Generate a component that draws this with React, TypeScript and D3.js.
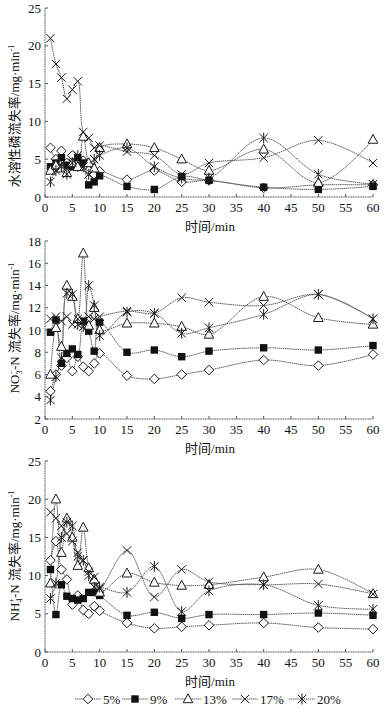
import { useMemo } from 'react';
import * as d3 from 'd3';

// sampling times (min)
const times = [1, 2, 3, 4, 5, 6, 7, 8, 9, 10, 15, 20, 25, 30, 40, 50, 60];
const seriesNames = ['5%', '9%', '13%', '17%', '20%'];
const xTicks = [0, 5, 10, 15, 20, 25, 30, 35, 40, 45, 50, 55, 60];

// water soluble P loss rate
const p5 = [6.5, 5.0, 6.1, 4.5, 5.5, 4.0, 4.8, 3.5, 3.0, 3.4, 2.3, 3.5, 2.0, 2.2, 1.2, 1.6, 1.6];
const p9 = [4.0, 4.5, 5.2, 4.2, 4.0, 5.2, 4.5, 1.6, 2.0, 2.8, 1.4, 1.0, 2.7, 2.2, 1.3, 1.0, 1.4];
const p13 = [3.5, 4.2, 3.8, 3.2, 4.5, 4.0, 8.0, 4.5, 3.8, 6.5, 7.0, 6.5, 5.0, 3.5, 6.3, 1.9, 7.6];
const p17 = [21.0, 17.6, 15.8, 13.0, 14.2, 15.3, 8.6, 7.8, 6.5, 6.8, 6.0, 5.5, 3.0, 4.5, 5.2, 7.5, 4.5];
const p20 = [2.0, 3.5, 4.0, 3.0, 4.5, 5.5, 4.0, 3.0, 5.0, 5.5, 6.5, 4.0, 2.5, 2.5, 7.8, 3.0, 1.7];

// NO3--N loss rate
const n5 = [4.5, 6.0, 6.8, 7.5, 6.3, 7.6, 6.7, 6.3, 7.0, 7.9, 5.9, 5.6, 6.0, 6.4, 7.3, 6.8, 7.8];
const n9 = [9.8, 10.9, 7.0, 7.9, 8.3, 7.8, 10.8, 9.9, 8.1, 10.7, 8.0, 8.2, 7.6, 8.1, 8.4, 8.2, 8.6];
const n13 = [6.0, 10.2, 8.5, 14.0, 13.0, 11.0, 16.9, 10.4, 12.0, 10.0, 10.6, 10.6, 10.3, 9.6, 13.0, 11.1, 10.5];
const n17 = [11.0, 11.2, 10.8, 11.2, 10.5, 11.0, 10.8, 11.2, 11.0, 11.2, 11.7, 11.5, 12.9, 12.5, 12.2, 13.2, 11.0];
const n20 = [3.7, 5.8, 7.5, 13.3, 13.2, 10.5, 10.3, 14.0, 12.2, 9.5, 11.6, 11.5, 9.7, 10.2, 11.4, 13.2, 11.0];

// NH4+-N loss rate
const a5 = [12.0, 14.5, 10.8, 9.5, 6.2, 7.4, 5.5, 5.0, 6.0, 5.4, 3.8, 3.1, 3.3, 3.5, 3.8, 3.2, 3.0];
const a9 = [10.8, 4.9, 8.8, 7.3, 7.0, 6.8, 7.0, 7.8, 7.8, 7.4, 4.8, 5.2, 4.4, 4.9, 4.9, 5.1, 4.8];
const a13 = [9.0, 20.0, 13.0, 17.5, 15.0, 11.3, 16.3, 11.0, 9.5, 7.8, 10.3, 9.1, 8.7, 8.8, 9.8, 10.8, 7.6];
const a17 = [18.3, 17.5, 16.5, 15.5, 14.5, 13.0, 12.0, 10.5, 9.8, 8.3, 13.3, 7.2, 10.8, 9.2, 8.8, 8.9, 7.6];
const a20 = [7.0, 9.0, 15.0, 17.0, 16.5, 12.5, 12.0, 10.0, 8.5, 8.5, 7.8, 11.2, 5.3, 8.0, 8.8, 6.1, 5.6];

const SERIF = '"Liberation Serif", "DejaVu Serif", serif';
const CJK = '"Noto Sans CJK SC", sans-serif';
const LINE = '#5c5c5c';
const INK = '#1a1a1a';

function Marker({ kind, x, y }: { kind: number; x: number; y: number }) {
  const t = `translate(${x},${y})`;
  if (kind === 0)
    return <path transform={t} d="M0,-4.8L4.8,0L0,4.8L-4.8,0Z" fill="#fff" stroke={INK} strokeWidth={1} />;
  if (kind === 1) return <rect x={x - 3.7} y={y - 3.7} width={7.4} height={7.4} fill="#111" />;
  if (kind === 2)
    return <path transform={t} d="M0,-5.2L4.8,3.7L-4.8,3.7Z" fill="#fff" stroke={INK} strokeWidth={1} />;
  const cross = 'M-4.2,-4.2L4.2,4.2M-4.2,4.2L4.2,-4.2';
  if (kind === 3) return <path transform={t} d={cross} stroke={INK} strokeWidth={1} fill="none" />;
  return <path transform={t} d={cross + 'M0,-5.4L0,5.4'} stroke={INK} strokeWidth={1} fill="none" />;
}

interface PanelProps {
  top: number;
  bottom: number;
  domain: [number, number];
  yTicks: number[];
  series: number[][];
  title: JSX.Element;
  titleY: number;
}

const X0 = 45;
const X1 = 373;

function Panel({ top, bottom, domain, yTicks, series, title, titleY }: PanelProps) {
  const x = d3.scaleLinear().domain([0, 60]).range([X0, X1]);
  const y = d3.scaleLinear().domain(domain).range([bottom, top]);
  const line = d3
    .line<number>()
    .x((_, i) => x(times[i]))
    .y((d) => y(d))
    .curve(d3.curveCatmullRom.alpha(0.5));

  return (
    <g>
      {series.map((s, k) => (
        <path key={'l' + k} d={line(s) || ''} fill="none" stroke={LINE} strokeWidth={1} strokeDasharray="1.5 0.6" />
      ))}
      {series.map((s, k) => (
        <g key={'m' + k}>
          {s.map((v, i) => (
            <Marker key={i} kind={k} x={x(times[i])} y={y(v)} />
          ))}
        </g>
      ))}
      <line x1={X0} x2={X0} y1={top} y2={bottom} stroke="#555" strokeWidth={1} strokeDasharray="1.2 0.5" />
      <line x1={X0} x2={X1} y1={bottom} y2={bottom} stroke="#555" strokeWidth={1} strokeDasharray="1.2 0.5" />
      {yTicks.map((t) => (
        <g key={'y' + t}>
          <line x1={X0} x2={X0 + 3} y1={y(t)} y2={y(t)} stroke="#555" />
          <text x={X0 - 4} y={y(t) + 4.5} textAnchor="end" fontFamily={SERIF} fontSize={13} fill="#111">
            {t}
          </text>
        </g>
      ))}
      {xTicks.map((t) => (
        <g key={'x' + t}>
          <line x1={x(t)} x2={x(t)} y1={bottom} y2={bottom - 3} stroke="#555" />
          <text x={x(t)} y={bottom + 15} textAnchor="middle" fontFamily={SERIF} fontSize={13} fill="#111">
            {t}
          </text>
        </g>
      ))}
      <text x={210} y={bottom + 34} textAnchor="middle" fontSize={13} fill="#111">
        <tspan fontFamily={CJK}>时间</tspan>
        <tspan fontFamily={SERIF}>/min</tspan>
      </text>
      <g transform={`translate(19,${titleY}) rotate(-90)`}>{title}</g>
    </g>
  );
}

export default function App() {
  const legendItems = useMemo(() => [75, 122, 175, 232, 289], []);
  const titleP = (
    <text textAnchor="middle" fontSize={13} fill="#111">
      <tspan fontFamily={CJK}>水溶性磷流失率</tspan>
      <tspan fontFamily={SERIF}>/mg·min</tspan>
      <tspan fontFamily={SERIF} fontSize={8} dy={-5}>-1</tspan>
    </text>
  );
  const titleN = (
    <text textAnchor="middle" fontSize={13} fill="#111">
      <tspan fontFamily={SERIF}>NO</tspan>
      <tspan fontFamily={SERIF} fontSize={8} dy={3}>3</tspan>
      <tspan fontFamily={SERIF} fontSize={8} dx={-4} dy={-8}>−</tspan>
      <tspan fontFamily={SERIF} dy={5}>-N </tspan>
      <tspan fontFamily={CJK}>流失率</tspan>
      <tspan fontFamily={SERIF}>/mg·min</tspan>
      <tspan fontFamily={SERIF} fontSize={8} dy={-5}>-1</tspan>
    </text>
  );
  const titleA = (
    <text textAnchor="middle" fontSize={13} fill="#111">
      <tspan fontFamily={SERIF}>NH</tspan>
      <tspan fontFamily={SERIF} fontSize={8} dy={3}>4</tspan>
      <tspan fontFamily={SERIF} fontSize={8} dx={-4} dy={-8}>+</tspan>
      <tspan fontFamily={SERIF} dy={5}>-N </tspan>
      <tspan fontFamily={CJK}>流失率</tspan>
      <tspan fontFamily={SERIF}>/mg·min</tspan>
      <tspan fontFamily={SERIF} fontSize={8} dy={-5}>-1</tspan>
    </text>
  );

  return (
    <svg width={390} height={708} style={{ position: 'absolute', left: 0, top: 0, background: '#fff' }}>
      <Panel top={8} bottom={197} domain={[0, 25]} yTicks={[0, 5, 10, 15, 20, 25]} series={[p5, p9, p13, p17, p20]} title={titleP} titleY={116} />
      <Panel top={241} bottom={419} domain={[2, 18]} yTicks={[2, 4, 6, 8, 10, 12, 14, 16, 18]} series={[n5, n9, n13, n17, n20]} title={titleN} titleY={328} />
      <Panel top={461} bottom={652} domain={[0, 25]} yTicks={[0, 5, 10, 15, 20, 25]} series={[a5, a9, a13, a17, a20]} title={titleA} titleY={556} />
      {seriesNames.map((name, k) => (
        <g key={name}>
          <line x1={legendItems[k]} x2={legendItems[k] + 26} y1={699} y2={699} stroke={LINE} strokeDasharray="1.5 0.6" />
          <Marker kind={k} x={legendItems[k] + 13} y={699} />
          <text x={legendItems[k] + 28} y={703.5} fontFamily={SERIF} fontSize={13} fill="#111">
            {name}
          </text>
        </g>
      ))}
    </svg>
  );
}
